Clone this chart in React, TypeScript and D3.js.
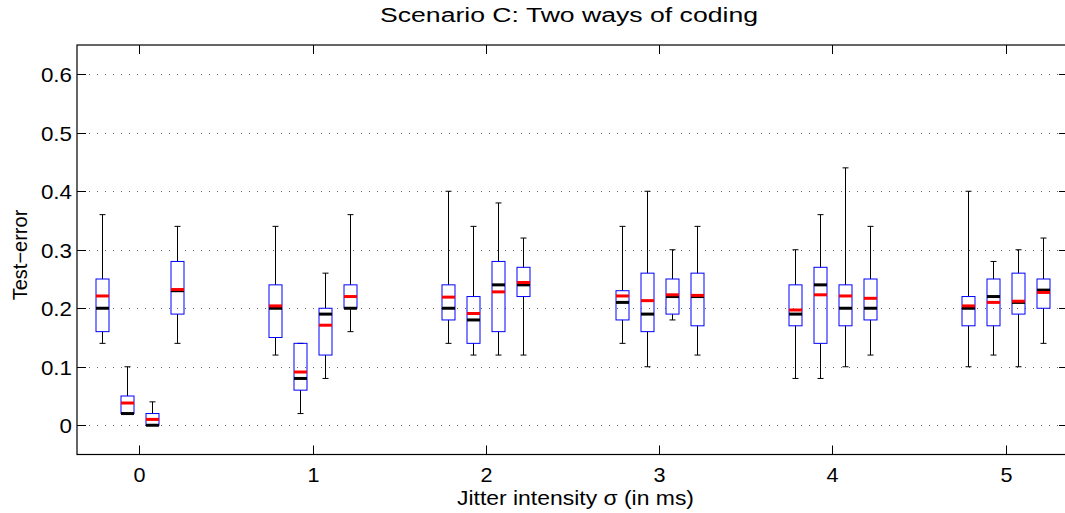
import React from "react";
import * as d3 from "d3";

// ---- data ----
const jitter = [0, 1, 2, 3, 4, 5];
const yTicks = [0, 0.1, 0.2, 0.3, 0.4, 0.5, 0.6];
const title = "Scenario C: Two ways of coding";
const xLabel = "Jitter intensity \u03c3 (in ms)";
const yLabel = "Test\u2212error";

// per group (jitter level), 4 boxes each
const whiskerLow = [
  [0.14, 0.02, 0.0, 0.14],
  [0.12, 0.02, 0.08, 0.16],
  [0.14, 0.12, 0.12, 0.12],
  [0.14, 0.10, 0.18, 0.12],
  [0.08, 0.08, 0.10, 0.12],
  [0.10, 0.12, 0.10, 0.14],
];
const q1 = [
  [0.16, 0.02, 0.0, 0.19],
  [0.15, 0.06, 0.12, 0.20],
  [0.18, 0.14, 0.16, 0.22],
  [0.18, 0.16, 0.19, 0.17],
  [0.17, 0.14, 0.17, 0.18],
  [0.17, 0.17, 0.19, 0.20],
];
const median = [
  [0.20, 0.02, 0.0, 0.23],
  [0.20, 0.08, 0.19, 0.20],
  [0.20, 0.18, 0.24, 0.24],
  [0.21, 0.19, 0.22, 0.22],
  [0.19, 0.24, 0.20, 0.20],
  [0.20, 0.22, 0.21, 0.231],
];
const q3 = [
  [0.25, 0.05, 0.02, 0.28],
  [0.24, 0.14, 0.20, 0.24],
  [0.24, 0.22, 0.28, 0.27],
  [0.23, 0.26, 0.25, 0.26],
  [0.24, 0.27, 0.24, 0.25],
  [0.22, 0.25, 0.26, 0.25],
];
const whiskerHigh = [
  [0.36, 0.10, 0.04, 0.34],
  [0.34, 0.14, 0.26, 0.36],
  [0.40, 0.34, 0.38, 0.32],
  [0.34, 0.40, 0.30, 0.34],
  [0.30, 0.36, 0.44, 0.34],
  [0.40, 0.28, 0.30, 0.32],
];
const mean = [
  [0.221, 0.038, 0.01, 0.232],
  [0.204, 0.091, 0.171, 0.22],
  [0.219, 0.191, 0.228, 0.244],
  [0.221, 0.213, 0.223, 0.222],
  [0.197, 0.223, 0.221, 0.217],
  [0.204, 0.21, 0.212, 0.227],
];
const boxOffsets = [-0.216, -0.072, 0.072, 0.216];

// ---- layout ----
const W = 1065;
const H = 513;
const left = 77;
const right = 1068;
const top = 45;
const bottom = 454.5;
const boxW = 13;
const capW = 6;
const tickLen = 9;

export default function App() {
  const x = d3.scaleLinear().domain([-0.36, 5.36]).range([left, right]);
  const y = d3.scaleLinear().domain([-0.05, 0.65]).range([bottom, top]);
  const font = "'Liberation Sans', Arial, Helvetica, sans-serif";

  const boxes: React.ReactNode[] = [];
  jitter.forEach((j, gi) => {
    boxOffsets.forEach((off, bi) => {
      const cx = Math.round(x(j + off)) + 0.5;
      const x0 = cx - boxW / 2;
      const yHi = y(whiskerHigh[gi][bi]);
      const yLo = y(whiskerLow[gi][bi]);
      const yQ1 = y(q1[gi][bi]);
      const yQ3 = y(q3[gi][bi]);
      const yMed = y(median[gi][bi]);
      const yMean = y(mean[gi][bi]);
      boxes.push(
        <g key={`${gi}-${bi}`}>
          <line x1={cx} x2={cx} y1={yHi} y2={yQ3} stroke="#000" strokeWidth={1} />
          <line x1={cx} x2={cx} y1={yQ1} y2={yLo} stroke="#000" strokeWidth={1} />
          <line x1={cx - capW / 2} x2={cx + capW / 2} y1={yHi} y2={yHi} stroke="#000" strokeWidth={1} />
          <line x1={cx - capW / 2} x2={cx + capW / 2} y1={yLo} y2={yLo} stroke="#000" strokeWidth={1} />
          <rect x={x0} y={yQ3} width={boxW} height={yQ1 - yQ3} fill="none" stroke="#0000ff" strokeWidth={1} />
          <line x1={x0} x2={x0 + boxW} y1={yMed} y2={yMed} stroke="#000" strokeWidth={3} />
          <line x1={x0} x2={x0 + boxW} y1={yMean} y2={yMean} stroke="#ff0000" strokeWidth={3} />
        </g>
      );
    });
  });

  return (
    <svg
      width={W}
      height={H}
      style={{ position: "absolute", left: 0, top: 0, background: "#fff" }}
    >
      <rect x={0} y={0} width={W} height={H} fill="#fff" />
      {/* grid */}
      {yTicks.map((t) => (
        <line
          key={`g${t}`}
          x1={left}
          x2={right}
          y1={Math.round(y(t)) + 0.5}
          y2={Math.round(y(t)) + 0.5}
          stroke="#666"
          strokeWidth={1}
          strokeDasharray="1 7"
          strokeDashoffset={-4}
        />
      ))}
      {boxes}
      {/* frame */}
      <rect x={left} y={top} width={right - left} height={bottom - top} fill="none" stroke="#000" strokeWidth={1.2} />
      {/* y ticks */}
      {yTicks.map((t) => {
        const yy = Math.round(y(t)) + 0.5;
        return (
          <g key={`yt${t}`}>
            <line x1={left} x2={left + tickLen} y1={yy} y2={yy} stroke="#000" />
            <line x1={right} x2={right - tickLen} y1={yy} y2={yy} stroke="#000" />
            <text
              transform={`translate(72,${yy + 7}) scale(1.12,1)`}
              textAnchor="end"
              fontFamily={font}
              fontSize={20}
              fill="#000"
            >
              {d3.format("")(t)}
            </text>
          </g>
        );
      })}
      {/* x ticks */}
      {jitter.map((j) => {
        const xx = Math.round(x(j)) + 0.5;
        return (
          <g key={`xt${j}`}>
            <line x1={xx} x2={xx} y1={bottom} y2={bottom - tickLen} stroke="#000" />
            <line x1={xx} x2={xx} y1={top} y2={top + tickLen} stroke="#000" />
            <text
              transform={`translate(${xx},481.5) scale(1.08,1)`}
              textAnchor="middle"
              fontFamily={font}
              fontSize={20}
              fill="#000"
            >
              {j}
            </text>
          </g>
        );
      })}
      {/* title */}
      <text
        x={380}
        y={22}
        fontFamily={font}
        fontSize={20}
        textLength={378}
        lengthAdjust="spacingAndGlyphs"
        fill="#000"
      >
        {title}
      </text>
      {/* x label */}
      <text
        x={457}
        y={505}
        fontFamily={font}
        fontSize={20}
        textLength={237}
        lengthAdjust="spacingAndGlyphs"
        fill="#000"
      >
        {xLabel}
      </text>
      {/* y label */}
      <text
        transform={`translate(27,255) rotate(-90)`}
        textAnchor="middle"
        fontFamily={font}
        fontSize={20}
        fill="#000"
      >
        {yLabel}
      </text>
    </svg>
  );
}
